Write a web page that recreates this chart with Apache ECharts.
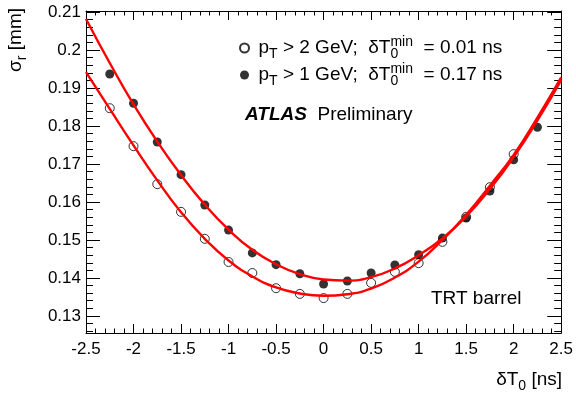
<!DOCTYPE html>
<html>
<head>
<meta charset="utf-8">
<script src="https://cdn.jsdelivr.net/npm/echarts@6.0.0/dist/echarts.min.js"></script>
<style>
  html, body { margin: 0; padding: 0; background: #fff; }
  .chart { width: 576px; height: 394px; }
</style>
</head>
<body>
<div class="chart"></div>
<script>
// 测量点的 δT0 位置 (ns)
var ptX = [-2.25, -2, -1.75, -1.5, -1.25, -1, -0.75, -0.5, -0.25, 0, 0.25, 0.5, 0.75, 1, 1.25, 1.5, 1.75, 2, 2.25];
// pT > 2 GeV (空心圆)
var ptGt2 = [0.1847, 0.1747, 0.1647, 0.1574, 0.1503, 0.1442, 0.1413, 0.1373, 0.1358, 0.1347, 0.1358, 0.1387, 0.1416, 0.1439, 0.1495, 0.1561, 0.1639, 0.1726, null];
// pT > 1 GeV (实心圆)
var ptGt1 = [0.1937, 0.1860, 0.1758, 0.1672, 0.1592, 0.1526, 0.1466, 0.1435, 0.1411, 0.1384, 0.1392, 0.1413, 0.1434, 0.1461, 0.1505, 0.1558, 0.1629, 0.1711, 0.1797];

// 拟合曲线
var fitX = [-2.5, -2.25, -2, -1.75, -1.5, -1.25, -1, -0.75, -0.5, -0.25, 0, 0.25, 0.5, 0.75, 1, 1.25, 1.5, 1.75, 2, 2.25, 2.5];
var fitGt2 = [0.1942, 0.1845, 0.1749, 0.1657, 0.1573, 0.1503, 0.1446, 0.1404, 0.1375, 0.1359, 0.1353, 0.1357, 0.1372, 0.1401, 0.1443, 0.1500, 0.1566, 0.1643, 0.1724, 0.1822, 0.1928];
var fitGt1 = [0.2082, 0.1966, 0.1857, 0.1759, 0.1671, 0.1593, 0.1527, 0.1474, 0.1436, 0.1410, 0.1396, 0.1393, 0.1402, 0.1425, 0.1460, 0.1504, 0.1562, 0.1634, 0.1718, 0.1815, 0.1921];

// y 轴刻度
var yTicks = [0.13, 0.14, 0.15, 0.16, 0.17, 0.18, 0.19, 0.2, 0.21];

window.onload = function () {
    var myChart = echarts.init(document.querySelector(".chart"));
    var font = "'Liberation Sans', Arial, Helvetica, sans-serif";

    function pairs(xs, ys) {
        var out = [];
        for (var i = 0; i < xs.length; i++) {
            if (ys[i] != null) out.push([xs[i], ys[i]]);
        }
        return out;
    }

    // 次刻度
    var yMinor = [];
    for (var i = 63; i <= 105; i++) {
        if (i % 5 !== 0) yMinor.push(+(i * 0.002).toFixed(3));
    }

    var yMin = 0.1255, yMax = 0.2103;

    function xAxisOf(pos, showLabel) {
        return {
            type: "value",
            position: pos,
            min: -2.5,
            max: 2.5,
            interval: 0.5,
            axisLine: { show: true, onZero: false, lineStyle: { color: "#000", width: 1 } },
            axisTick: { show: true, inside: true, length: 9, lineStyle: { color: "#000" } },
            minorTick: { show: true, splitNumber: 5, length: 4.5, lineStyle: { color: "#000" } },
            splitLine: { show: false },
            minorSplitLine: { show: false },
            axisLabel: { show: showLabel, color: "#000", fontSize: 17, fontFamily: font, margin: 8 }
        };
    }

    function yAxisOf(pos, ticks, len, showLabel, showLine) {
        return {
            type: "value",
            position: pos,
            min: yMin,
            max: yMax,
            axisLine: { show: showLine, onZero: false, lineStyle: { color: "#000", width: 1 } },
            axisTick: { show: true, inside: true, length: len, customValues: ticks, lineStyle: { color: "#000" } },
            splitLine: { show: false },
            axisLabel: { show: showLabel, customValues: yTicks, color: "#000", fontSize: 17, fontFamily: font, margin: 5 }
        };
    }

    var rich = {
        n: { fontSize: 19, fontFamily: font, color: "#000", fill: "#000", lineHeight: 26 },
        sub: { fontSize: 14, fontFamily: font, color: "#000", fill: "#000", lineHeight: 11, verticalAlign: "bottom" },
        subz: { fontSize: 14, fontFamily: font, color: "#000", fill: "#000", lineHeight: 11, verticalAlign: "bottom", width: 0 },
        sup: { fontSize: 14, fontFamily: font, color: "#000", fill: "#000", lineHeight: 11, verticalAlign: "top" },
        b: { fontSize: 19, fontFamily: font, color: "#000", fill: "#000", fontWeight: "bold", fontStyle: "italic", lineHeight: 26 },
        m: { fontSize: 19, fontFamily: font, color: "#000", fill: "#000", lineHeight: 26 }
    };

    var legendText = {
        "pT2": "{n|p}{sub|T}{n| > 2 GeV;  δT}{subz|0}{sup|min}{n|  = 0.01 ns}",
        "pT1": "{n|p}{sub|T}{n| > 1 GeV;  δT}{subz|0}{sup|min}{n|  = 0.17 ns}"
    };

    var option = {
        animation: false,
        backgroundColor: "#fff",
        grid: { left: 86, right: 13, top: 11, bottom: 61 },
        xAxis: [xAxisOf("bottom", true), xAxisOf("top", false)],
        yAxis: [
            yAxisOf("left", yTicks, 14, true, true),
            yAxisOf("left", yMinor, 7, false, false),
            yAxisOf("right", yTicks, 14, false, true),
            yAxisOf("right", yMinor, 7, false, false)
        ],
        legend: {
            orient: "vertical",
            left: 234,
            top: 30,
            itemWidth: 18,
            itemHeight: 9,
            itemGap: 1,
            icon: "circle",
            data: ["pT2", "pT1"],
            formatter: function (name) { return legendText[name]; },
            textStyle: { rich: rich }
        },
        graphic: [
            {
                type: "text", x: 245, y: 115,
                style: { text: "{b|ATLAS}{m|  Preliminary}", rich: rich, verticalAlign: "middle" }
            },
            {
                type: "text", x: 431, y: 299,
                style: { text: "TRT barrel", fill: "#000", font: "19px " + font, verticalAlign: "middle" }
            },
            {
                type: "text", x: 562, y: 380,
                style: { text: "{n|δT}{sub|0}{n| [ns]}", rich: rich, align: "right", verticalAlign: "middle" }
            },
            {
                type: "text", x: 16, y: 8, rotation: Math.PI / 2,
                style: { text: "{n|σ}{sub|r}{n| [mm]}", rich: rich, align: "right", verticalAlign: "middle" }
            }
        ],
        series: [
            {
                name: "pT2",
                type: "scatter",
                symbol: "circle",
                symbolSize: 9,
                itemStyle: { color: "rgba(255,255,255,0)", borderColor: "#000", borderWidth: 1 },
                data: pairs(ptX, ptGt2)
            },
            {
                name: "pT1",
                type: "scatter",
                symbol: "circle",
                symbolSize: 9,
                itemStyle: { color: "#000", borderColor: "#000", borderWidth: 0 },
                data: pairs(ptX, ptGt1)
            },
            {
                name: "fit2",
                type: "line",
                smooth: true,
                showSymbol: false,
                lineStyle: { color: "#ff0000", width: 2.4 },
                data: pairs(fitX, fitGt2)
            },
            {
                name: "fit1",
                type: "line",
                smooth: true,
                showSymbol: false,
                lineStyle: { color: "#ff0000", width: 2.4 },
                data: pairs(fitX, fitGt1)
            }
        ]
    };

    myChart.setOption(option);
};
</script>
</body>
</html>
